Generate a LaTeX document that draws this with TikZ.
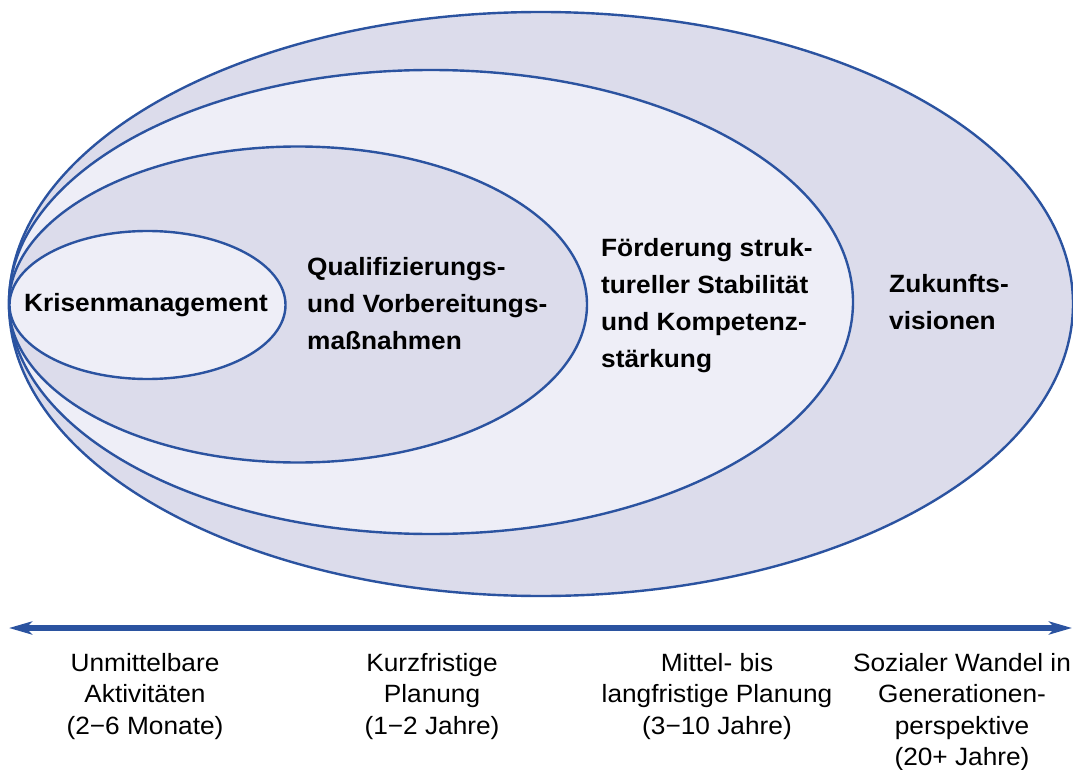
\documentclass[tikz,border=0pt]{standalone}
\usepackage{fontspec}
\setmainfont{Liberation Sans}[FakeStretch=1.05]
\usetikzlibrary{arrows.meta,shapes.geometric}
\definecolor{edgeblue}{HTML}{2B53A0}
\definecolor{darkfill}{HTML}{DCDCEB}
\definecolor{lightfill}{HTML}{EEEEF7}
\tikzset{
  zone/.style={ellipse, draw=edgeblue, line width=2.4pt, inner sep=0pt, outer sep=0pt},
  boldlbl/.style={font=\fontsize{25}{37}\selectfont\bfseries, align=left, inner sep=0pt, text=black},
  timelbl/.style={font=\fontsize{25}{31.5}\selectfont, align=center, inner sep=0pt, text=black},
  timeaxis/.style={draw=edgeblue, line width=6pt, {Stealth[length=23pt,width=13pt,inset=6pt]}-{Stealth[length=23pt,width=13pt,inset=6pt]}}
}
\begin{document}
\begin{tikzpicture}[x=1pt,y=-1pt]
\useasboundingbox (0,0) rectangle (1073,770);
% nested ellipses
\node[zone, fill=darkfill, minimum width=1064pt, minimum height=584pt] (outer) at (541,304) {};
\node[zone, fill=lightfill, minimum width=844pt, minimum height=464pt] (second) at (431,302) {};
\node[zone, fill=darkfill, minimum width=578pt, minimum height=316pt] (third) at (298,304.5) {};
\node[zone, fill=lightfill, minimum width=276pt, minimum height=148pt] (inner) at (147.5,305) {};
% labels inside (base anchor = baseline of last line)
\node[boldlbl, anchor=base] (krise) at (146,311) {Krisenmanagement};
\node[boldlbl, anchor=base west] (quali) at (307,349) {Qualifizierungs-\\und Vorbereitungs-\\maßnahmen};
\node[boldlbl, anchor=base west] (foerd) at (601,367) {Förderung struk-\\tureller Stabilität\\und Kompetenz-\\stärkung};
\node[boldlbl, anchor=base west] (zukunft) at (889,329) {Zukunfts-\\visionen};
% time axis
\coordinate (axl) at (9,628);
\coordinate (axr) at (1072,628);
\draw[timeaxis] (axl) -- (axr);
% time labels
\node[timelbl, anchor=base] (t1) at (145,734) {Unmittelbare\\Aktivitäten\\(2−6 Monate)};
\node[timelbl, anchor=base] (t2) at (432,734) {Kurzfristige\\Planung\\(1−2 Jahre)};
\node[timelbl, anchor=base] (t3) at (717,734) {Mittel- bis\\langfristige Planung\\(3−10 Jahre)};
\node[timelbl, anchor=base] (t4) at (962,765.5) {Sozialer Wandel in\\Generationen-\\perspektive\\(20+ Jahre)};
\end{tikzpicture}
\end{document}
